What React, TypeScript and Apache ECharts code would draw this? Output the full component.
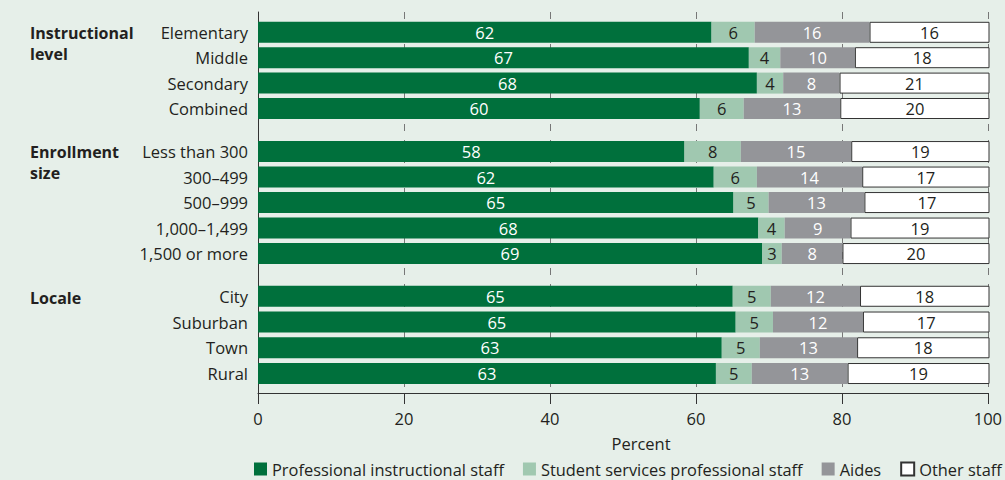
import React, { useEffect, useRef } from "react";
import * as echarts from "echarts";

const levelCategories = ["Elementary", "Middle", "Secondary", "Combined"];
const enrollCategories = ["Less than 300", "300–499", "500–999", "1,000–1,499", "1,500 or more"];
const localeCategories = ["City", "Suburban", "Town", "Rural"];

const seriesNames = [
  "Professional instructional staff",
  "Student services professional staff",
  "Aides",
  "Other staff",
];

// values per group: [professional, student services, aides, other]
const levelProfessional = [62.0, 67.1, 68.2, 60.4];
const levelStudent = [5.9, 4.3, 3.6, 6.0];
const levelAides = [15.7, 10.2, 7.7, 13.2];
const levelOther = [16.4, 18.4, 20.5, 20.4];

const enrollProfessional = [58.3, 62.3, 65.0, 68.4, 68.9];
const enrollStudent = [7.7, 5.9, 4.8, 3.6, 2.7];
const enrollAides = [15.1, 14.4, 13.1, 9.0, 8.3];
const enrollOther = [18.9, 17.4, 17.1, 19.0, 20.1];

const localeProfessional = [64.9, 65.3, 63.4, 62.6];
const localeStudent = [5.2, 5.1, 5.2, 4.9];
const localeAides = [12.2, 12.3, 13.3, 13.1];
const localeOther = [17.7, 17.3, 18.1, 19.4];

const groupTitles = ["Instructional\nlevel", "Enrollment\nsize", "Locale"];
const xTicks = { min: 0, max: 100, interval: 20 };

const FONT = "'Open Sans', sans-serif";
const FS = 16.5;
const TEXT = "#231f20";
const colors = ["#00703c", "#a0c8b0", "#949599", "#ffffff"];
const labelColors = ["#ffffff", TEXT, "#ffffff", TEXT];

export default function App() {
  const ref = useRef<HTMLDivElement>(null);

  useEffect(() => {
    if (!ref.current) return;
    const chart = echarts.init(ref.current, undefined, { renderer: "svg" });

    const groups = [
      { cats: levelCategories, data: [levelProfessional, levelStudent, levelAides, levelOther], top: 19.6, height: 101.6 },
      { cats: enrollCategories, data: [enrollProfessional, enrollStudent, enrollAides, enrollOther], top: 138.8, height: 127.5 },
      { cats: localeCategories, data: [localeProfessional, localeStudent, localeAides, localeOther], top: 283.4, height: 103 },
    ];

    const grids: any[] = [{ left: 258, right: 15.5, top: 12, bottom: 87 }];
    const xAxes: any[] = [
      {
        type: "value",
        gridIndex: 0,
        min: xTicks.min,
        max: xTicks.max,
        interval: xTicks.interval,
        axisLine: { show: true, onZero: false, lineStyle: { color: "#333", width: 1 } },
        axisTick: { show: true, length: 11, lineStyle: { color: "#333", width: 1 } },
        axisLabel: { color: TEXT, fontSize: FS, fontFamily: FONT, margin: 17 },
        splitLine: { show: true, lineStyle: { color: "#777", width: 1, type: [7, 9] } },
      },
    ];
    const yAxes: any[] = [
      {
        type: "value",
        gridIndex: 0,
        min: 0,
        max: 1,
        axisLine: { show: true, lineStyle: { color: "#333", width: 1 } },
        axisTick: { show: false },
        axisLabel: { show: false },
        splitLine: { show: false },
      },
    ];
    const series: any[] = [];

    groups.forEach((g, gi) => {
      const idx = gi + 1;
      grids.push({ left: 258, right: 15.5, top: g.top, height: g.height });
      xAxes.push({ type: "value", gridIndex: idx, min: 0, max: 100, show: false });
      yAxes.push({
        type: "category",
        gridIndex: idx,
        inverse: true,
        data: g.cats,
        axisLine: { show: false },
        axisTick: { show: false },
        splitLine: { show: false },
        axisLabel: { color: TEXT, fontSize: FS, fontFamily: FONT, margin: 10 },
      });
      g.data.forEach((vals, si) => {
        series.push({
          type: "bar",
          name: seriesNames[si],
          xAxisIndex: idx,
          yAxisIndex: idx,
          stack: "g" + gi,
          barWidth: 21,
          data: vals,
          itemStyle:
            si === 3
              ? { color: colors[si], borderColor: "#333", borderWidth: 1 }
              : { color: colors[si] },
          label: {
            show: true,
            position: "inside",
            color: labelColors[si],
            fontSize: FS,
            fontFamily: FONT,
            formatter: (p: any) => String(Math.round(p.value)),
          },
        });
      });
    });

    const titleTops = [22.5, 141.5, 287.5];
    const graphics: any[] = groupTitles.map((t, i) => ({
      type: "text",
      left: 30,
      top: titleTops[i],
      style: { text: t, fontSize: 16, fontWeight: "bold", fontFamily: FONT, fill: TEXT, lineHeight: 21 },
    }));
    graphics.push({
      type: "text",
      x: 641,
      y: 443,
      style: { text: "Percent", fontSize: FS, fontFamily: FONT, fill: TEXT, align: "center", verticalAlign: "middle" },
    });

    chart.setOption({
      animation: false,
      backgroundColor: "#e6efe9",
      grid: grids,
      xAxis: xAxes,
      yAxis: yAxes,
      series,
      graphic: graphics,
      legend: {
        data: seriesNames,
        left: 254,
        top: 461,
        padding: 0,
        icon: "rect",
        itemWidth: 13,
        itemHeight: 13,
        itemGap: 19,
        selectedMode: false,
        textStyle: { color: TEXT, fontSize: 16.4, fontFamily: FONT },
      },
    });

    return () => chart.dispose();
  }, []);

  return <div ref={ref} style={{ position: "absolute", left: 0, top: 0, width: 1005, height: 480 }} />;
}
